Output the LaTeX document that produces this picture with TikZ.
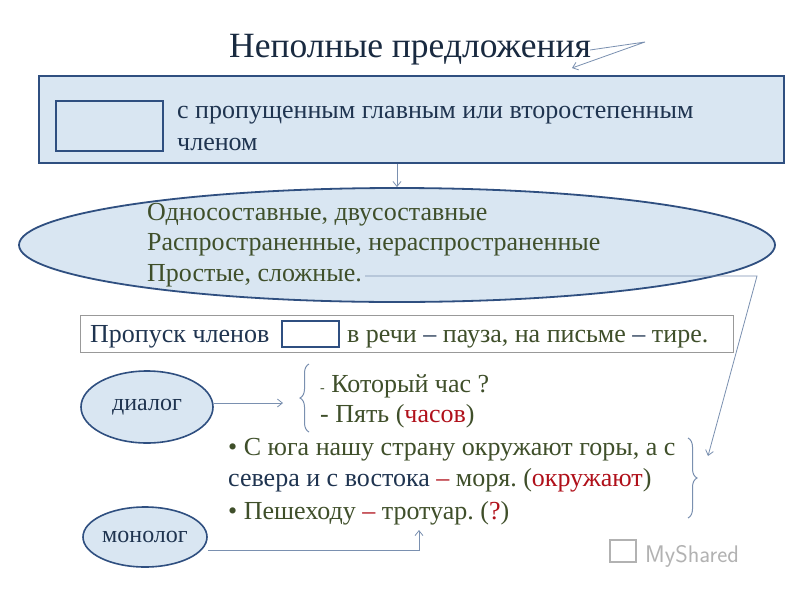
\documentclass[tikz,border=0pt]{standalone}
\usepackage{fontspec}
\setmainfont{Liberation Serif}
\frenchspacing
\usetikzlibrary{arrows.meta,decorations.pathreplacing,shapes.geometric}
\definecolor{fillb}{HTML}{D9E6F2}
\definecolor{edgeb}{HTML}{2F4F80}
\definecolor{txtb}{HTML}{1F3450}
\definecolor{txtg}{HTML}{3F4F2A}
\definecolor{redt}{HTML}{B0101A}
\definecolor{linec}{HTML}{7A90B0}
\begin{document}
\begin{tikzpicture}[x=1pt,y=-1pt,
  txt/.style={anchor=base west,inner sep=0pt,font=\fontsize{26}{30}\selectfont},
  conn/.style={draw=linec,line width=0.8pt},
  arr/.style={conn,-{Straight Barb[length=5pt,width=8pt]}},
  oval/.style={draw=edgeb,line width=1.6pt,fill=fillb,ellipse,inner sep=0pt}]
\useasboundingbox (0,0) rectangle (800,600);
\fill[white] (0,0) rectangle (800,600);
\node[anchor=base,inner sep=0pt,text=txtb!80!black,font=\fontsize{35.5}{40}\selectfont] (title) at (410,57) {Неполные предложения};
\coordinate (t1) at (590,50); \coordinate (t2) at (645,42); \coordinate (t3) at (572,68);
\draw[arr] (t1) -- (t2) -- (t3);
\node[draw=edgeb,line width=1.8pt,fill=fillb,minimum width=745pt,minimum height=87pt,anchor=north west] (box) at (38,75) {};
\node[draw=edgeb,line width=1.8pt,fill=fillb,minimum width=107pt,minimum height=50pt,anchor=north west] (sb) at (55,100) {};
\node[txt,text=txtb] (l1) at (177,118) {с пропущенным главным или второстепенным};
\node[txt,text=txtb] (l2) at (177,150) {членом};
\node[draw=edgeb,line width=1.8pt,fill=fillb,shape=ellipse,minimum width=756pt,minimum height=114pt] (ell) at (397,245) {};
\draw[arr] (box.south -| 397,0) -- (ell.north);
\node[txt,text=txtg] (e1) at (147,220) {Односоставные, двусоставные};
\node[txt,text=txtg] (e2) at (147,250) {Распространенные, нераспространенные};
\node[txt,text=txtg] (e3) at (147,281) {Простые, сложные.};
\coordinate (c1) at (365,276); \coordinate (c2) at (757,276); \coordinate (c3) at (708,456);
\draw[arr] (c1) -- (c2) -- (c3);
\node[draw=gray!80,line width=0.8pt,minimum width=653pt,minimum height=37pt,anchor=north west] (pb) at (80,315) {};
\node[txt,text=txtb] (p1) at (90,342) {Пропуск членов};
\node[draw=edgeb,line width=1.6pt,minimum width=57pt,minimum height=26pt,anchor=north west] (pbox) at (281,320) {};
\node[txt,text=txtg] (p2) at (347,342) {в речи \textcolor{txtb}{–} пауза, на письме \textcolor{txtb}{–} тире.};
\node[oval,minimum width=132pt,minimum height=72pt,text=txtb,font=\fontsize{24}{28}\selectfont] (dia) at (147,407) {диалог};
\coordinate (da) at (283,403);
\draw[arr] (dia.east |- da) -- (da);
\draw[conn,line width=1pt,decorate,decoration={brace,amplitude=9pt,mirror,aspect=0.5}] (309,364) -- (309,432);
\node[txt,text=txtg] (d1) at (320,392) {{\fontsize{14}{16}\selectfont-} Который час ?};
\node[txt,text=txtg] (d2) at (320,422) {- Пять (\textcolor{redt}{часов})};
\node[txt,text=txtg] (m1) at (228,455) {• С юга нашу страну окружают горы, а с};
\node[txt,text=txtb] (m2) at (228,486) {севера и с востока \textcolor{redt}{–} \textcolor{txtg}{моря. (}\textcolor{redt}{окружают}\textcolor{txtg}{)}};
\node[txt,text=txtg] (m3) at (228,519) {• Пешеходу \textcolor{redt}{–} тротуар. (\textcolor{redt}{?})};
\draw[conn,line width=1pt,decorate,decoration={brace,amplitude=9pt}] (688,438) -- (688,518);
\node[oval,minimum width=124pt,minimum height=60pt,text=txtb,font=\fontsize{24}{28}\selectfont] (mon) at (145,537) {монолог};
\coordinate (ma) at (419,550); \coordinate (mb) at (419,530);
\draw[arr] (mon.east |- ma) -- (ma) -- (mb);
\node[anchor=base west,inner sep=0pt,text=gray!60,font=\sffamily\fontsize{24}{28}\selectfont] (ws) at (645,562) {MyShared};
\draw[gray!60,line width=2pt] (610,540) rectangle (636,562);
\end{tikzpicture}
\end{document}
